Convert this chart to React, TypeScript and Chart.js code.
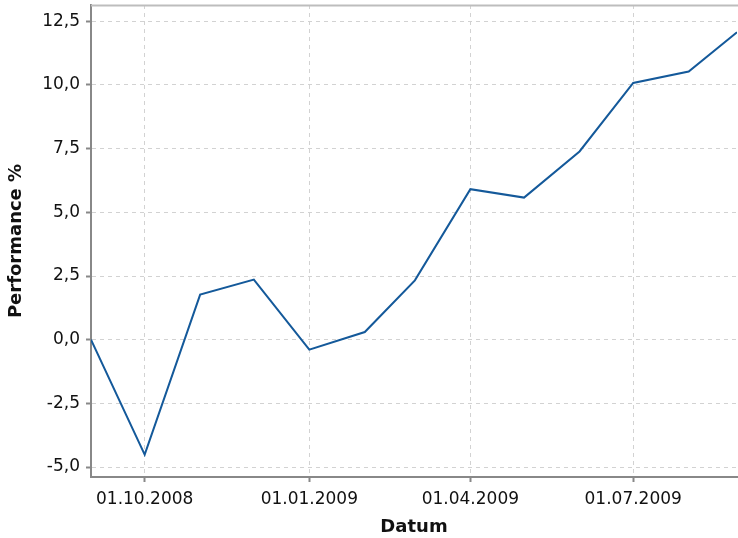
import React, { useEffect, useRef } from "react";
import { Chart, registerables } from "chart.js";

Chart.register(...registerables);

// Monthly observation dates and performance values (%)
const dates = [
  "01.09.2008", "01.10.2008", "01.11.2008", "01.12.2008", "01.01.2009",
  "01.02.2009", "01.03.2009", "01.04.2009", "01.05.2009", "01.06.2009",
  "01.07.2009", "01.08.2009", "28.08.2009",
];
const performance = [
  0, -4.51, 1.77, 2.36, -0.39, 0.3, 2.33, 5.91, 5.58, 7.39, 10.08, 10.53, 12.07,
];
const xTickDates = ["01.10.2008", "01.01.2009", "01.04.2009", "01.07.2009"];
const yTickValues = [-5, -2.5, 0, 2.5, 5, 7.5, 10, 12.5];

const DAY = 86400000;
function parseDate(s: string): number {
  const [d, m, y] = s.split(".").map(Number);
  return Date.UTC(y, m - 1, d);
}
const origin = parseDate(dates[0]);
const toDays = (s: string) => Math.round((parseDate(s) - origin) / DAY);
function fmtDays(v: number): string {
  const dt = new Date(origin + v * DAY);
  const dd = String(dt.getUTCDate()).padStart(2, "0");
  const mm = String(dt.getUTCMonth() + 1).padStart(2, "0");
  return `${dd}.${mm}.${dt.getUTCFullYear()}`;
}

const topBorder = {
  id: "topBorder",
  afterDraw(chart: any) {
    const { ctx, chartArea } = chart;
    ctx.save();
    ctx.strokeStyle = "#bdbdbd";
    ctx.lineWidth = 2;
    ctx.beginPath();
    ctx.moveTo(chartArea.left, chartArea.top + 0.5);
    ctx.lineTo(chartArea.right + 1, chartArea.top + 0.5);
    ctx.stroke();
    ctx.restore();
  },
};

export default function App() {
  const ref = useRef<HTMLCanvasElement>(null);
  useEffect(() => {
    document.body.style.margin = "0";
    const points = dates.map((d, i) => ({ x: toDays(d), y: performance[i] }));
    const xMax = toDays(dates[dates.length - 1]);
    const tickFont = { family: "DejaVu Sans", size: 17 };
    const titleFont = { family: "DejaVu Sans", size: 18, weight: "bold" as const };
    const chart = new Chart(ref.current!, {
      type: "line",
      data: {
        datasets: [
          {
            data: points,
            borderColor: "#14599a",
            borderWidth: 2,
            pointRadius: 0,
            tension: 0,
            fill: false,
          },
        ],
      },
      plugins: [topBorder],
      options: {
        animation: false,
        responsive: false,
        devicePixelRatio: 1,
        layout: { padding: { top: 5, right: 1, left: 0, bottom: 0 } },
        plugins: { legend: { display: false }, tooltip: { enabled: false } },
        scales: {
          x: {
            type: "linear",
            min: 0,
            max: xMax,
            afterFit: (s: any) => {
              s.height = 61;
              s.paddingLeft = 0;
              s.paddingRight = 0;
            },
            afterBuildTicks: (s: any) => {
              s.ticks = xTickDates.map((d) => ({ value: toDays(d) }));
            },
            ticks: {
              callback: (v: any) => fmtDays(Number(v)),
              color: "#111",
              font: tickFont,
              padding: 7,
              maxRotation: 0,
              autoSkip: false,
            },
            grid: {
              color: "#d2d2d2",
              lineWidth: 1,
              tickColor: "#888",
              tickWidth: 2,
              tickLength: 5,
            },
            border: { color: "#888", width: 2, dash: [4, 4] },
            title: {
              display: true,
              text: "Datum",
              color: "#111",
              font: titleFont,
              padding: { top: 0, bottom: 0 },
            },
          },
          y: {
            type: "linear",
            min: -5.39,
            max: 13.14,
            afterFit: (s: any) => {
              s.width = 91;
              s.paddingTop = 0;
              s.paddingBottom = 0;
            },
            afterBuildTicks: (s: any) => {
              s.ticks = yTickValues.map((v) => ({ value: v }));
            },
            ticks: {
              callback: (v: any) => Number(v).toFixed(1).replace(".", ","),
              color: "#111",
              font: tickFont,
              padding: 6,
              autoSkip: false,
            },
            grid: {
              color: "#d2d2d2",
              lineWidth: 1,
              tickColor: "#888",
              tickWidth: 2,
              tickLength: 5,
            },
            border: { color: "#888", width: 2, dash: [4, 4] },
            title: {
              display: true,
              text: "Performance %",
              color: "#111",
              font: titleFont,
              padding: { top: 6, bottom: 0 },
            },
          },
        },
      },
    });
    return () => chart.destroy();
  }, []);
  return <canvas ref={ref} width={738} height={538} style={{ display: "block" }} />;
}
